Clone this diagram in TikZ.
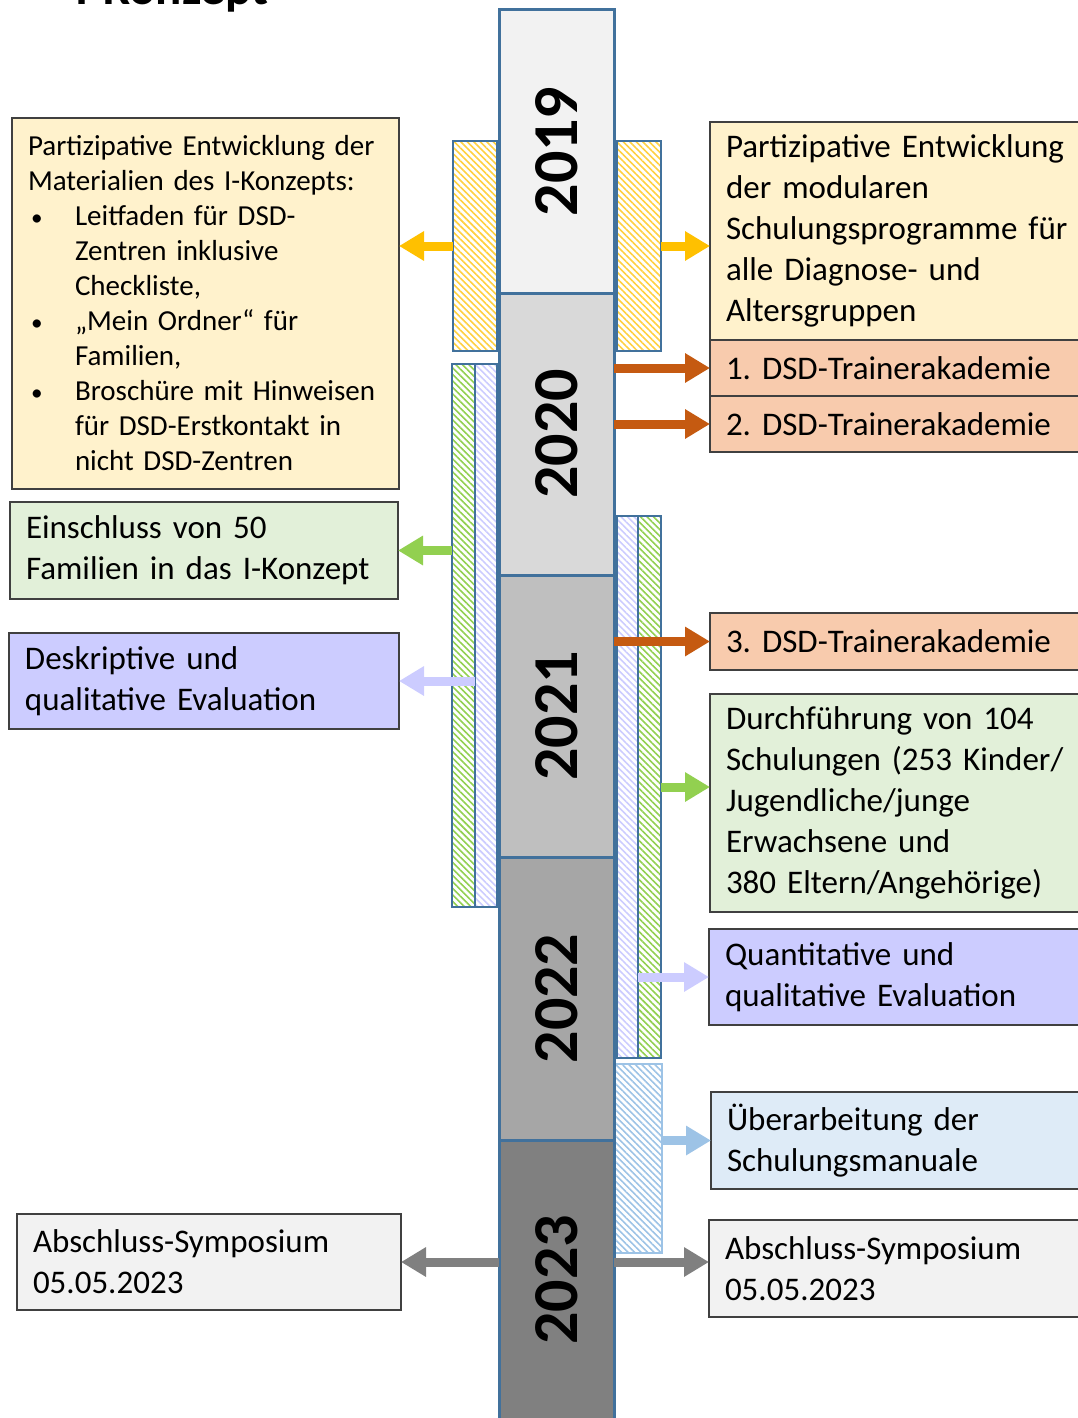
\documentclass[tikz,border=0pt]{standalone}
\usepackage{fontspec}
\setmainfont{Carlito}
\usetikzlibrary{arrows.meta,patterns.meta}
\definecolor{boxline}{HTML}{404040}
\definecolor{colblue}{HTML}{41719C}
\definecolor{yelfill}{HTML}{FFF2CC}
\definecolor{grnfill}{HTML}{E2F0D9}
\definecolor{lavfill}{HTML}{CCCCFF}
\definecolor{orgfill}{HTML}{F8CBAD}
\definecolor{blufill}{HTML}{DEEBF7}
\definecolor{gryfill}{HTML}{F2F2F2}
\definecolor{yelarr}{HTML}{FFC000}
\definecolor{orgarr}{HTML}{C55A11}
\definecolor{grnarr}{HTML}{92D050}
\definecolor{lavarr}{HTML}{CCCCFF}
\definecolor{bluarr}{HTML}{9DC3E6}
\definecolor{gryarr}{HTML}{808080}
\frenchspacing
\newcommand\bul{\makebox[23.5pt][l]{\hspace*{1.5pt}\scalebox{0.8}{\textbullet}}}
\newcommand\ind{\hspace*{23.5pt}}
\tikzset{
  box/.style={draw=boxline, line width=1pt, anchor=north west, inner xsep=8pt,
    inner ysep=0pt, outer sep=0pt, align=left, text width=#1,
    font=\fontsize{16.5}{20.5}\selectfont},
  seg/.style={draw=colblue, line width=1.5pt, anchor=north west, inner sep=0pt,
    outer sep=0pt, minimum width=57.5pt},
  year/.style={rotate=90, font=\bfseries\fontsize{32}{36}\selectfont, inner sep=0pt},
  bar/.style={draw=colblue, line width=1pt, anchor=north west, inner sep=0pt,
    outer sep=0pt, pattern={Lines[angle=-45,distance=2.3pt,line width=0.8pt]},
    pattern color=#1},
  arr/.style={line width=4.5pt, -{Triangle[length=12.5pt,width=14pt]}, draw=#1}
}
\begin{document}
\begin{tikzpicture}[x=0.5pt,y=-0.5pt]
\useasboundingbox (0,0) rectangle (1077,1418);

% Title (cut off at the top)
\node[anchor=base west, inner sep=0pt, font=\bfseries\fontsize{24.5}{29}\selectfont] (title) at (75,5) {I-Konzept};

% Hatched bars
\node[bar=yelarr!75, minimum width=22pt, minimum height=105pt] (yL) at (453,141) {};
\node[bar=yelarr!75, minimum width=22pt, minimum height=105pt] (yR) at (617,141) {};
\node[bar=grnarr, minimum width=11.5pt, minimum height=271.5pt] (gL) at (452,364) {};
\node[bar=lavarr, minimum width=11pt, minimum height=271.5pt] (vL) at (475,364) {};
\node[bar=lavarr, minimum width=10.5pt, minimum height=271pt] (vR) at (617,516) {};
\node[bar=grnarr, minimum width=11.5pt, minimum height=271pt] (gR) at (638,516) {};
\node[bar=bluarr, draw=bluarr, minimum width=23.5pt, minimum height=94.5pt] (bR) at (615,1064) {};

% Time line
\node[seg, fill=gryfill, minimum height=141.5pt] (c2019) at (499,10) {};
\node[seg, fill=black!15, minimum height=141pt] (c2020) at (499,293) {};
\node[seg, fill=black!25, minimum height=141pt] (c2021) at (499,575) {};
\node[seg, fill=black!35, minimum height=141.5pt] (c2022) at (499,857) {};
\node[seg, fill=gryarr, minimum height=142.5pt] (c2023) at (499,1140) {};
\node[year] (y2019) at (c2019) {2019};
\node[year] (y2020) at (c2020) {2020};
\node[year] (y2021) at (c2021) {2021};
\node[year] (y2022) at (c2022) {2022};
\node[year] (y2023) at (557,1280) {2023};

% Left boxes
\node[box=177.5pt, fill=yelfill, minimum height=185.5pt, font=\fontsize{14.5}{17.5}\selectfont] (L1) at (12,118)
  {Partizipative Entwicklung der\\ Materialien des I-Konzepts:\\
   \bul Leitfaden für DSD-\\ \ind Zentren inklusive\\ \ind Checkliste,\\
   \bul „Mein Ordner“ für\\ \ind Familien,\\
   \bul Broschüre mit Hinweisen\\ \ind für DSD-Erstkontakt in\\ \ind nicht DSD-Zentren};
\node[box=178pt, fill=grnfill, minimum height=48.5pt] (L2) at (10,502)
  {Einschluss von 50\\ Familien in das I-Konzept};
\node[box=179pt, fill=lavfill, minimum height=48pt] (L3) at (9,633)
  {Deskriptive und\\ qualitative Evaluation};
\node[box=176pt, fill=gryfill, minimum height=48pt] (L4) at (17,1214)
  {Abschluss-Symposium\\ 05.05.2023};

% Right boxes
\node[box=174pt, fill=yelfill, minimum height=109pt] (R1) at (710,122)
  {Partizipative Entwicklung\\ der modularen\\ Schulungsprogramme für\\ alle Diagnose- und\\ Altersgruppen};
\node[box=174pt, fill=orgfill, minimum height=28pt] (R2) at (710,340) {1. DSD-Trainerakademie};
\node[box=174pt, fill=orgfill, minimum height=28pt] (R3) at (710,396) {2. DSD-Trainerakademie};
\node[box=174pt, fill=orgfill, minimum height=28.5pt] (R4) at (710,613) {3. DSD-Trainerakademie};
\node[box=174pt, fill=grnfill, minimum height=109pt] (R5) at (710,694)
  {Durchführung von 104\\ Schulungen (253 Kinder/\\ Jugendliche/junge\\ Erwachsene und\\ 380 Eltern/Angehörige)};
\node[box=174pt, fill=lavfill, minimum height=48pt] (R6) at (709,929)
  {Quantitative und\\ qualitative Evaluation};
\node[box=174pt, fill=blufill, minimum height=48.5pt] (R7) at (711,1092)
  {Überarbeitung der\\ Schulungsmanuale};
\node[box=174pt, fill=gryfill, minimum height=48.5pt] (R8) at (709,1220)
  {Abschluss-Symposium\\ 05.05.2023};

% Arrows
\draw[arr=yelarr] (yL.west) -- (yL.west -| L1.east);
\draw[arr=yelarr] (yR.east) -- (yR.east -| R1.west);
\draw[arr=orgarr] (c2020.east |- R2.west) -- (R2.west);
\draw[arr=orgarr] (c2020.east |- R3.west) -- (R3.west);
\draw[arr=orgarr] (c2021.east |- R4.west) -- (R4.west);
\draw[arr=grnarr] (gL.west |- L2.east) -- (L2.east);
\draw[arr=lavarr] (vL.west |- L3.east) -- (L3.east);
\draw[arr=grnarr] (gR.east) -- (gR.east -| R5.west);
\draw[arr=lavarr] (vR.east |- R6.west) -- (R6.west);
\draw[arr=bluarr] (bR.east |- R7.west) -- (R7.west);
\draw[arr=gryarr] (c2023.west |- L4.east) -- (L4.east);
\draw[arr=gryarr] (c2023.east |- L4.east) -- (c2023.east |- L4.east -| R8.west);
\end{tikzpicture}
\end{document}
